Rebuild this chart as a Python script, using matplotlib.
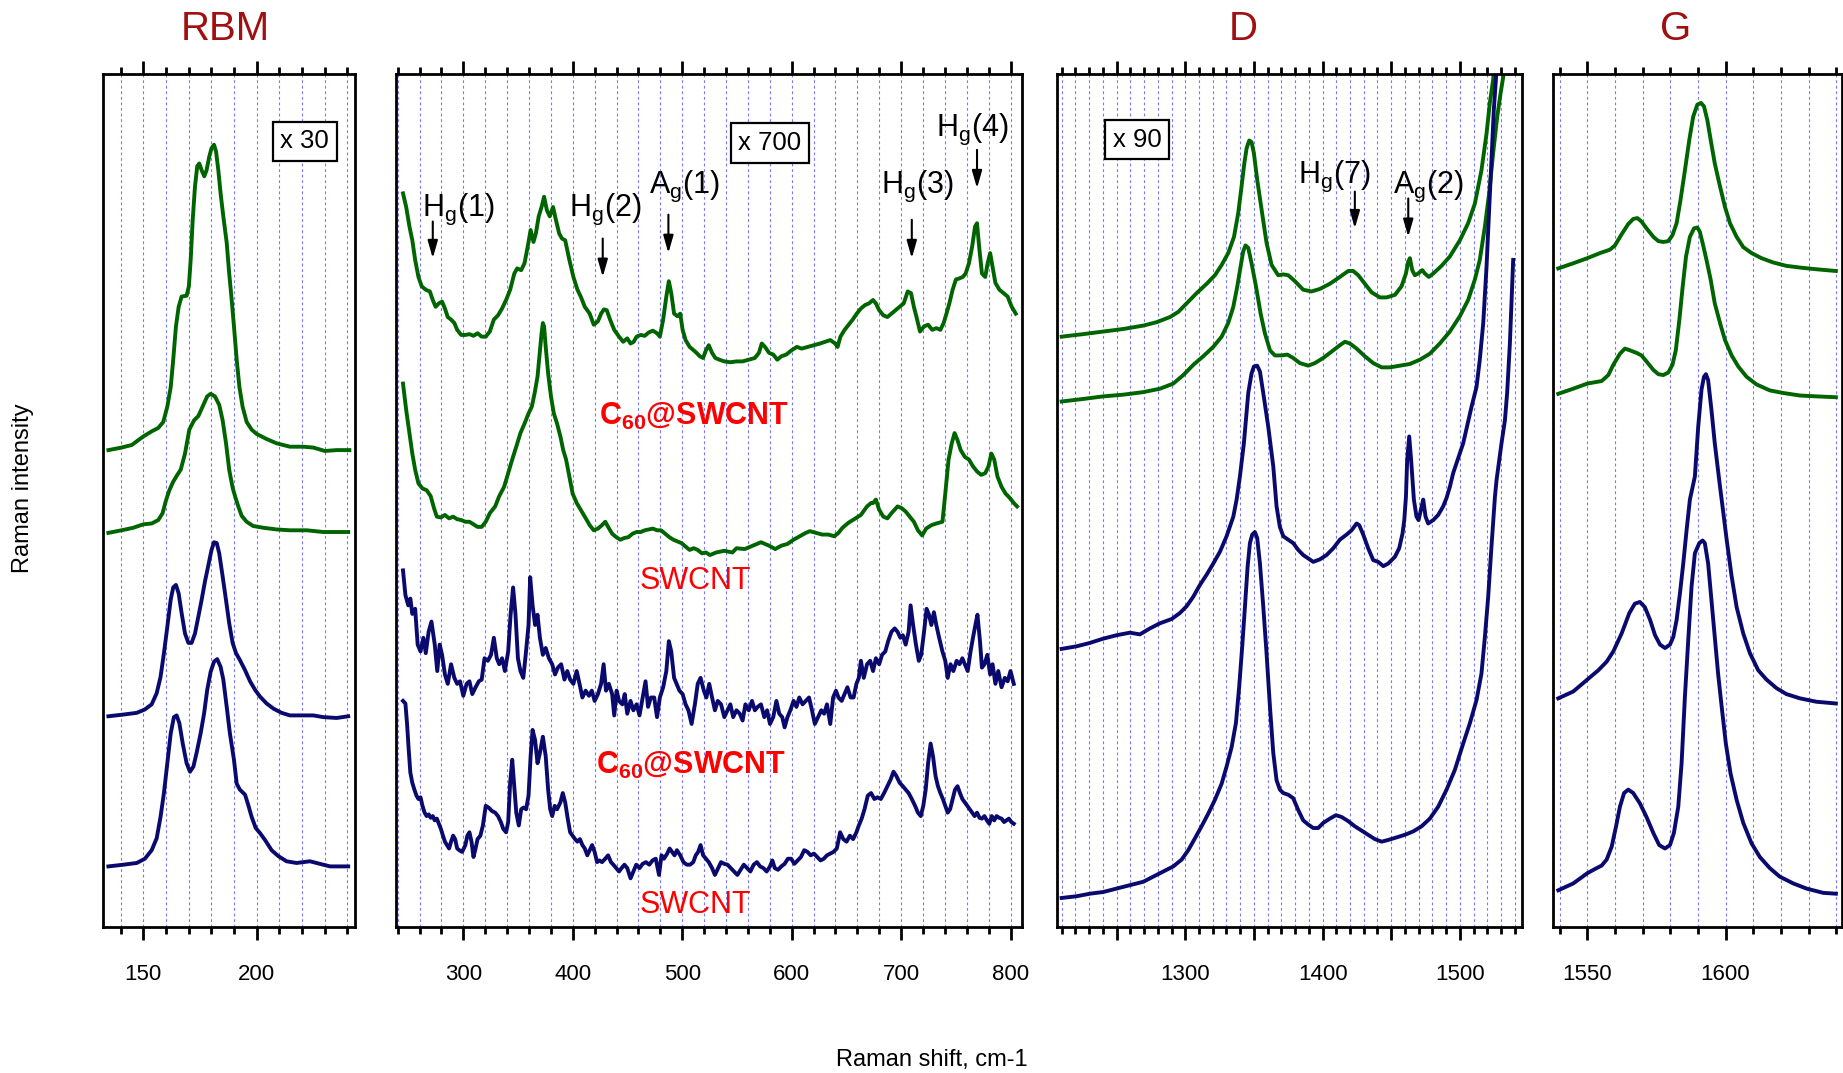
import matplotlib
matplotlib.use("Agg")
import matplotlib.pyplot as plt
import numpy as np
from matplotlib.ticker import MultipleLocator, FuncFormatter

plt.rcParams["font.family"] = ["Liberation Sans", "DejaVu Sans"]
plt.rcParams["mathtext.fontset"] = "custom"
plt.rcParams["mathtext.rm"] = "Liberation Sans"
plt.rcParams["mathtext.it"] = "Liberation Sans:italic"
plt.rcParams["mathtext.bf"] = "Liberation Sans:bold"

GREEN = "#006400"
NAVY = "#0a0a6e"
TITLE_RED = "#a01010"

# ---- RBM region (x = Raman shift, y = intensity in arbitrary offset units) ----
rbm_green_c60 = [(134.6, 55.9), (140.4, 56.2), (144.9, 56.5), (150.0, 57.5), (153.7, 58.1), (156.6, 58.5),
                 (158.8, 59.2), (160.6, 61.0), (162.1, 63.3), (163.2, 66.5), (164.4, 70.4), (165.6, 72.7),
                 (166.9, 73.9), (169.1, 74.0), (170.1, 75.1), (170.9, 78.2), (171.8, 82.9), (172.8, 86.8),
                 (173.8, 89.2), (174.7, 89.5), (175.9, 88.6), (176.9, 88.0), (177.9, 88.7), (179.1, 90.3),
                 (180.1, 91.3), (181.2, 91.7), (182.1, 90.9), (183.1, 88.7), (184.1, 86.0), (185.3, 83.3),
                 (186.8, 80.2), (187.9, 76.6), (189.0, 73.5), (190.0, 70.4), (191.2, 66.5), (192.4, 63.3),
                 (193.8, 61.0), (195.6, 59.2), (197.8, 58.3), (200.0, 57.8), (204.4, 57.2), (208.8, 56.7),
                 (214.7, 56.3), (220.6, 56.3), (225.0, 56.2), (230.1, 55.8), (235.3, 55.9), (240.9, 55.9)]
rbm_green_swcnt = [(134.6, 46.2), (140.4, 46.5), (145.6, 46.8), (150.0, 47.2), (153.7, 47.3), (156.6, 47.7),
                   (158.5, 48.5), (160.0, 50.0), (161.5, 51.2), (163.2, 52.2), (165.0, 53.0), (166.5, 53.6),
                   (168.4, 55.5), (170.3, 58.3), (172.4, 59.4), (174.3, 59.9), (176.5, 61.2), (178.2, 62.2),
                   (179.7, 62.5), (181.6, 62.2), (183.5, 61.2), (185.0, 59.4), (186.5, 56.7), (187.9, 53.6),
                   (189.4, 51.5), (190.7, 50.3), (191.9, 49.3), (193.4, 48.2), (195.6, 47.5), (198.5, 47.0),
                   (202.9, 46.8), (208.8, 46.6), (214.7, 46.5), (222.1, 46.5), (229.4, 46.3), (240.4, 46.3)]
rbm_navy_c60 = [(134.6, 24.7), (141.2, 24.9), (147.1, 25.1), (150.7, 25.5), (153.7, 26.1), (155.9, 27.4),
                (157.6, 29.3), (159.1, 32.1), (160.6, 35.2), (162.1, 38.4), (163.2, 39.8), (164.4, 40.1),
                (165.6, 39.1), (166.9, 36.8), (168.4, 34.4), (169.9, 33.3), (171.3, 33.3), (172.8, 34.4),
                (174.3, 36.4), (175.7, 38.3), (177.2, 40.5), (178.7, 42.4), (180.1, 44.2), (181.2, 45.1),
                (182.4, 45.0), (183.5, 43.8), (185.0, 41.1), (186.5, 38.3), (187.9, 35.6), (189.4, 33.3),
                (190.9, 32.1), (192.6, 31.3), (194.9, 30.1), (197.1, 28.8), (199.3, 27.8), (201.5, 27.0),
                (204.4, 26.2), (207.4, 25.6), (211.0, 25.1), (214.7, 24.8), (220.6, 24.8), (225.0, 24.8),
                (229.4, 24.6), (235.3, 24.5), (240.4, 24.7)]
rbm_navy_swcnt = [(134.6, 7.1), (141.2, 7.3), (147.1, 7.5), (150.7, 8.0), (153.7, 9.0), (155.9, 10.4),
                  (157.6, 12.9), (159.1, 15.7), (160.6, 19.2), (162.1, 22.7), (163.5, 24.6), (164.7, 24.8),
                  (165.9, 23.9), (167.4, 21.5), (169.1, 19.2), (170.6, 18.2), (172.1, 18.8), (173.5, 20.4),
                  (175.3, 22.7), (176.8, 25.0), (178.2, 27.8), (179.7, 29.9), (181.2, 31.1), (182.6, 31.4),
                  (184.1, 30.5), (185.3, 29.0), (186.8, 25.8), (188.2, 22.7), (190.0, 19.6), (191.2, 16.8),
                  (192.6, 16.1), (194.9, 15.5), (196.3, 14.3), (197.8, 12.9), (199.6, 11.6), (201.5, 11.0),
                  (203.7, 10.2), (206.6, 9.0), (209.6, 8.3), (213.2, 7.7), (217.6, 7.5), (223.5, 7.7),
                  (227.9, 7.4), (232.4, 7.1), (240.4, 7.1)]

# ---- C60 region ----
mid_green_c60 = [(244.9, 86.0), (247.8, 84.4), (250.8, 82.1), (253.4, 80.5), (256.0, 78.2), (259.0, 76.2),
                 (262.0, 75.1), (265.7, 74.7), (269.4, 74.5), (272.1, 73.5), (274.7, 72.7), (277.6, 73.1),
                 (280.6, 73.3), (283.2, 72.5), (285.8, 71.5), (288.8, 71.2), (291.8, 70.8), (294.4, 70.0),
                 (298.1, 69.4), (301.9, 69.4), (305.6, 69.5), (309.3, 69.3), (313.0, 69.6), (316.8, 69.2),
                 (320.5, 69.2), (324.2, 69.8), (327.9, 71.2), (331.7, 71.7), (335.4, 72.5), (339.1, 73.5),
                 (342.8, 74.7), (346.6, 76.6), (349.2, 77.2), (352.9, 77.0), (355.9, 77.8), (358.9, 79.8),
                 (361.5, 81.7), (364.1, 80.3), (366.3, 81.3), (368.9, 83.3), (371.5, 84.4), (373.8, 85.6),
                 (376.4, 84.0), (379.0, 83.3), (382.0, 84.4), (384.6, 82.9), (387.6, 81.3), (390.2, 80.7),
                 (393.1, 80.5), (396.9, 78.2), (400.6, 76.2), (404.3, 74.7), (407.3, 73.9), (411.0, 72.7),
                 (415.5, 71.9), (419.2, 70.6), (423.0, 71.0), (425.9, 71.9), (428.5, 72.4), (431.1, 72.3),
                 (434.1, 71.2), (437.9, 70.0), (442.3, 69.2), (446.1, 68.6), (449.8, 69.0), (452.8, 68.4),
                 (455.7, 68.6), (458.3, 69.2), (462.1, 69.4), (465.8, 69.3), (469.5, 69.7), (473.2, 69.9),
                 (477.0, 69.6), (479.6, 69.2), (482.6, 71.2), (485.5, 73.9), (487.8, 75.7), (490.0, 74.3),
                 (492.6, 71.9), (495.6, 71.6), (498.2, 71.9), (500.4, 70.0), (503.1, 68.8), (506.8, 68.0),
                 (510.5, 67.6), (513.1, 67.3), (516.1, 66.9), (519.1, 66.7), (521.7, 67.6), (524.3, 68.2),
                 (527.3, 67.3), (530.3, 66.7), (534.0, 66.5), (538.5, 66.3), (544.0, 66.2), (549.6, 66.3),
                 (555.2, 66.3), (560.8, 66.5), (566.4, 66.7), (570.1, 67.3), (572.7, 68.4), (575.7, 68.0),
                 (579.4, 67.3), (583.2, 67.1), (586.9, 66.5), (590.6, 66.9), (595.1, 67.1), (599.9, 67.6),
                 (604.8, 68.0), (609.2, 67.8), (614.8, 68.0), (620.4, 68.2), (626.0, 68.4), (630.8, 68.6),
                 (635.3, 68.8), (639.8, 68.4), (642.0, 68.0), (644.6, 69.2), (648.4, 70.0), (652.1, 70.6),
                 (655.8, 71.2), (659.5, 71.9), (663.3, 72.5), (667.0, 72.9), (670.7, 73.1), (674.4, 73.5),
                 (677.0, 73.1), (680.0, 72.3), (683.8, 71.7), (687.5, 71.5), (691.2, 71.9), (694.9, 72.3),
                 (698.7, 72.7), (702.4, 73.1), (706.1, 74.5), (709.1, 74.3), (711.7, 72.7), (714.3, 71.4),
                 (717.3, 69.8), (721.0, 70.4), (724.7, 70.6), (728.5, 70.0), (732.2, 70.2), (735.9, 70.0),
                 (738.9, 70.8), (741.5, 71.9), (744.1, 73.1), (747.1, 74.7), (750.1, 75.9), (752.7, 76.0),
                 (756.4, 76.2), (759.0, 76.6), (762.0, 77.8), (765.0, 79.8), (767.6, 82.1), (769.4, 82.5),
                 (771.3, 79.8), (773.9, 76.6), (776.9, 76.2), (779.1, 77.8), (781.4, 79.0), (783.6, 77.4),
                 (786.2, 75.5), (789.9, 74.7), (793.7, 74.3), (797.4, 73.9), (801.1, 72.7), (804.8, 71.9)]
mid_green_swcnt = [(244.9, 63.7), (247.8, 60.6), (250.8, 57.9), (253.4, 55.5), (256.0, 53.6), (259.0, 52.0),
                   (262.7, 51.4), (266.5, 51.2), (270.2, 50.5), (273.2, 49.1), (275.8, 48.1), (279.5, 48.0),
                   (283.2, 48.3), (287.0, 47.9), (290.7, 48.1), (294.4, 47.8), (298.1, 47.7), (301.9, 47.5),
                   (305.6, 47.5), (309.3, 47.2), (313.0, 46.9), (316.8, 46.9), (320.5, 47.5), (324.2, 48.5),
                   (329.1, 49.3), (332.8, 50.5), (337.3, 51.6), (341.0, 53.2), (344.7, 54.8), (348.4, 56.3),
                   (352.2, 57.9), (355.9, 59.0), (359.6, 60.2), (362.6, 61.0), (365.2, 62.6), (367.8, 64.5),
                   (370.0, 67.6), (371.5, 69.6), (372.7, 70.8), (373.8, 70.4), (375.3, 68.0), (377.5, 64.9),
                   (380.1, 62.2), (382.7, 60.2), (385.7, 59.0), (388.7, 57.5), (391.3, 55.9), (393.9, 54.8),
                   (396.9, 52.8), (399.9, 50.8), (403.6, 49.7), (407.3, 48.9), (411.0, 48.1), (415.5, 47.1),
                   (419.2, 46.5), (423.0, 46.7), (426.7, 47.1), (429.7, 47.5), (432.3, 46.9), (436.0, 46.1),
                   (439.7, 45.7), (443.4, 45.4), (447.2, 45.6), (450.9, 45.7), (454.6, 46.1), (458.3, 46.3),
                   (462.1, 46.3), (465.8, 46.5), (469.5, 46.6), (473.2, 46.7), (477.0, 46.5), (480.7, 46.5),
                   (484.4, 46.1), (488.2, 45.7), (491.9, 45.4), (495.6, 45.2), (499.3, 45.0), (503.1, 44.6),
                   (506.8, 44.2), (510.5, 44.4), (514.2, 44.2), (518.0, 43.8), (521.7, 43.9), (525.4, 43.6),
                   (531.0, 43.9), (538.5, 44.1), (545.9, 43.9), (549.6, 44.4), (557.1, 44.3), (564.5, 44.7),
                   (572.0, 45.1), (579.4, 44.7), (585.0, 44.3), (590.6, 44.7), (596.2, 44.9), (601.8, 45.4),
                   (607.4, 45.8), (613.0, 46.2), (616.7, 46.4), (622.3, 46.2), (627.9, 46.0), (633.5, 46.0),
                   (639.0, 45.8), (642.8, 46.2), (646.5, 46.8), (652.1, 47.4), (655.8, 47.7), (663.3, 48.3),
                   (668.9, 49.3), (672.6, 49.7), (674.4, 49.7), (677.0, 50.1), (680.0, 48.9), (683.8, 48.1),
                   (687.5, 47.9), (691.2, 48.5), (696.8, 49.3), (700.5, 49.1), (704.2, 48.7), (708.0, 48.1),
                   (711.7, 47.5), (715.4, 46.5), (719.2, 45.9), (722.9, 46.7), (727.7, 47.1), (732.2, 47.3),
                   (737.8, 47.5), (740.4, 50.8), (743.4, 54.8), (746.3, 56.7), (748.9, 57.9), (751.5, 57.1),
                   (754.5, 55.9), (758.3, 55.1), (762.0, 54.8), (765.7, 54.0), (769.4, 53.4), (773.2, 53.0),
                   (776.9, 53.2), (779.9, 54.0), (782.5, 55.5), (785.1, 54.8), (788.1, 52.8), (791.8, 51.6),
                   (795.5, 50.8), (799.3, 50.3), (803.0, 49.7), (806.0, 49.3)]
mid_navy_c60 = [(244.9, 41.8), (247.1, 38.9), (249.7, 37.7), (251.6, 38.5), (253.4, 36.7), (256.0, 37.3),
                (258.3, 33.1), (260.9, 32.3), (263.5, 33.9), (265.7, 32.1), (268.3, 34.6), (270.9, 35.8),
                (273.9, 33.1), (276.2, 30.0), (278.4, 33.1), (280.6, 31.9), (283.2, 29.6), (285.8, 28.5),
                (288.8, 30.8), (291.8, 29.2), (294.4, 28.5), (297.0, 28.8), (300.0, 27.1), (303.0, 28.5),
                (305.6, 28.8), (308.2, 27.3), (311.2, 28.1), (314.2, 28.8), (316.8, 29.0), (319.4, 31.5),
                (322.4, 31.2), (325.3, 31.9), (327.9, 33.9), (330.6, 31.5), (332.8, 30.8), (335.4, 31.5),
                (338.0, 30.0), (341.0, 32.3), (343.2, 36.6), (345.5, 39.8), (347.7, 36.6), (349.9, 31.5),
                (352.2, 30.0), (354.8, 29.2), (357.0, 31.9), (359.6, 35.4), (361.1, 41.0), (363.3, 37.7),
                (365.6, 35.4), (367.8, 36.6), (370.0, 33.9), (372.7, 31.9), (375.3, 32.7), (378.2, 31.5),
                (381.2, 30.8), (383.8, 29.6), (386.4, 30.4), (389.4, 30.8), (392.4, 29.0), (395.0, 30.0),
                (397.6, 29.0), (400.6, 28.5), (403.6, 30.0), (406.2, 28.5), (408.8, 26.9), (411.8, 27.7),
                (414.8, 27.1), (417.4, 27.7), (420.0, 26.5), (423.0, 27.3), (425.9, 28.5), (428.2, 30.8),
                (430.4, 27.7), (433.0, 28.5), (436.0, 27.3), (437.9, 24.8), (440.1, 27.7), (442.3, 26.5),
                (445.3, 26.1), (447.5, 27.3), (449.8, 25.0), (452.8, 26.5), (455.4, 25.4), (458.3, 26.1),
                (461.0, 24.8), (463.9, 26.9), (466.5, 28.8), (468.8, 25.8), (471.4, 26.9), (474.4, 26.9),
                (477.0, 24.6), (479.6, 26.9), (482.6, 28.1), (485.5, 30.0), (487.8, 33.5), (490.0, 32.3),
                (492.6, 29.2), (494.9, 28.5), (497.5, 27.7), (500.4, 27.3), (503.1, 26.1), (505.7, 25.4),
                (508.6, 23.8), (511.6, 26.1), (514.2, 28.5), (516.8, 29.2), (519.8, 27.7), (522.1, 26.9),
                (524.7, 28.5), (527.3, 26.9), (529.9, 25.4), (532.5, 26.5), (535.5, 26.1), (538.5, 24.6),
                (541.4, 25.4), (544.0, 26.1), (546.6, 24.6), (549.6, 25.4), (552.6, 25.0), (555.2, 24.2),
                (557.8, 26.1), (560.8, 25.4), (563.8, 26.5), (566.4, 25.4), (569.0, 25.8), (572.0, 26.1),
                (575.0, 24.6), (577.6, 25.4), (580.2, 23.8), (583.2, 24.6), (586.1, 26.5), (588.7, 25.0),
                (591.4, 24.6), (593.6, 23.4), (596.2, 24.6), (598.8, 25.4), (601.8, 26.5), (604.4, 25.8),
                (607.0, 26.9), (610.0, 26.1), (613.0, 26.5), (615.9, 26.9), (618.6, 25.4), (621.2, 23.8),
                (624.1, 24.6), (627.1, 25.4), (629.7, 25.0), (632.3, 26.1), (635.3, 23.8), (637.9, 26.9),
                (640.5, 27.7), (642.8, 26.9), (645.7, 26.5), (648.4, 27.3), (651.0, 28.1), (653.9, 26.9),
                (656.6, 26.9), (659.2, 28.5), (661.4, 29.2), (663.3, 31.2), (665.9, 29.2), (668.9, 30.8),
                (671.8, 31.2), (674.4, 30.0), (677.0, 31.5), (680.0, 30.8), (682.6, 31.9), (685.6, 32.3),
                (688.2, 33.5), (691.2, 34.6), (694.2, 35.0), (696.8, 34.6), (699.4, 33.9), (701.6, 34.2),
                (704.2, 33.1), (706.9, 34.6), (708.7, 37.7), (711.0, 35.4), (713.6, 33.1), (716.2, 31.2),
                (718.4, 31.9), (721.0, 34.6), (723.3, 37.3), (725.5, 36.6), (727.7, 35.4), (730.0, 36.9),
                (732.2, 35.4), (734.8, 33.9), (737.8, 32.3), (740.4, 31.2), (742.6, 29.2), (745.2, 30.8),
                (747.8, 30.0), (750.8, 31.2), (753.4, 30.8), (756.0, 31.5), (758.3, 30.8), (760.9, 30.0),
                (763.5, 32.3), (765.7, 33.9), (767.9, 35.4), (769.8, 36.6), (772.1, 33.5), (773.9, 30.4),
                (776.2, 30.8), (778.8, 31.9), (781.4, 29.6), (783.6, 30.8), (786.2, 28.5), (788.8, 30.0),
                (791.8, 28.1), (794.8, 29.2), (797.4, 28.8), (800.0, 30.0), (803.0, 28.5)]
mid_navy_swcnt = [(244.9, 26.5), (247.1, 26.2), (248.6, 23.8), (250.1, 20.8), (251.6, 18.1), (253.4, 16.9),
                  (255.3, 16.1), (257.2, 15.4), (259.0, 15.0), (260.9, 15.2), (262.7, 14.2), (264.6, 13.4),
                  (266.5, 13.0), (268.3, 13.2), (270.2, 12.8), (272.1, 13.0), (273.9, 12.5), (275.8, 12.7),
                  (277.6, 12.1), (279.5, 11.5), (281.4, 10.7), (283.2, 10.0), (285.1, 9.6), (287.0, 9.2),
                  (288.8, 10.0), (290.7, 10.7), (292.5, 10.3), (294.4, 9.2), (296.3, 9.0), (298.9, 8.8),
                  (301.9, 9.6), (303.7, 10.7), (305.6, 11.1), (307.5, 10.0), (309.3, 8.2), (311.2, 9.2),
                  (313.0, 10.3), (315.6, 10.7), (317.9, 11.9), (320.5, 14.2), (323.1, 14.0), (326.1, 13.6),
                  (329.1, 13.4), (331.7, 13.0), (334.3, 12.3), (336.5, 11.5), (339.1, 11.1), (341.0, 12.3),
                  (342.8, 16.9), (344.7, 19.6), (346.6, 16.5), (348.4, 13.4), (350.7, 11.9), (352.9, 13.8),
                  (355.1, 14.0), (357.4, 13.8), (359.6, 15.4), (361.5, 20.0), (363.3, 23.1), (365.6, 21.9),
                  (367.8, 19.2), (370.0, 20.4), (372.7, 22.3), (375.3, 20.0), (377.5, 16.1), (379.4, 13.8),
                  (381.2, 13.0), (383.5, 14.2), (385.7, 13.8), (388.7, 14.6), (390.9, 15.7), (393.1, 14.6),
                  (395.4, 12.7), (397.6, 11.1), (399.9, 10.7), (402.1, 10.3), (404.3, 10.0), (406.6, 10.3),
                  (408.8, 9.6), (411.0, 9.2), (413.3, 8.4), (415.5, 9.0), (417.7, 9.6), (420.0, 8.8),
                  (422.2, 7.6), (424.4, 7.8), (426.7, 7.6), (429.7, 8.0), (432.3, 8.4), (434.9, 7.6),
                  (437.1, 7.3), (439.7, 6.9), (442.3, 6.5), (444.6, 6.9), (447.2, 7.3), (449.8, 6.9),
                  (452.8, 5.7), (455.4, 6.5), (458.0, 7.3), (461.0, 6.9), (463.9, 7.4), (466.9, 7.6),
                  (469.9, 7.3), (472.9, 7.8), (475.9, 8.0), (478.8, 6.1), (481.1, 8.4), (483.3, 8.0),
                  (486.3, 8.6), (488.5, 9.2), (490.8, 8.8), (493.0, 8.4), (495.2, 9.0), (498.2, 8.4),
                  (501.2, 7.6), (504.2, 7.3), (507.2, 7.3), (510.1, 7.6), (512.4, 8.4), (514.6, 8.8),
                  (516.8, 9.6), (519.1, 8.4), (521.7, 8.0), (524.3, 7.6), (527.3, 6.9), (529.9, 6.1),
                  (532.9, 6.9), (535.5, 7.6), (538.5, 7.4), (541.4, 7.3), (544.4, 6.9), (547.4, 6.5),
                  (550.4, 6.1), (553.4, 6.7), (556.3, 7.3), (559.3, 6.9), (562.3, 6.5), (565.3, 7.3),
                  (568.3, 7.6), (571.2, 7.1), (574.2, 6.9), (577.2, 6.5), (580.2, 7.1), (582.4, 7.8),
                  (584.6, 6.9), (587.6, 6.7), (590.6, 7.1), (593.6, 7.4), (596.6, 8.0), (599.6, 8.0),
                  (602.5, 7.4), (605.5, 7.8), (608.5, 8.2), (611.5, 9.0), (614.5, 8.8), (617.4, 8.4),
                  (620.4, 8.6), (623.4, 8.2), (626.4, 7.8), (629.4, 8.0), (632.3, 8.4), (635.3, 8.6),
                  (638.3, 8.8), (641.3, 9.2), (644.3, 11.1), (647.2, 10.3), (650.2, 10.0), (653.2, 10.7),
                  (656.2, 10.3), (659.2, 11.1), (661.4, 11.9), (664.0, 12.7), (666.6, 13.8), (669.6, 15.4),
                  (672.6, 15.7), (675.6, 15.0), (678.5, 15.2), (681.5, 15.0), (684.5, 15.7), (687.5, 16.5),
                  (690.5, 17.3), (693.1, 18.2), (695.7, 17.7), (698.7, 16.9), (701.6, 16.5), (704.2, 16.1),
                  (706.9, 15.7), (709.8, 15.0), (712.8, 14.2), (715.4, 13.4), (718.0, 13.0), (720.3, 14.2),
                  (722.5, 16.1), (724.7, 19.2), (727.0, 21.5), (729.2, 20.0), (731.5, 17.7), (733.7, 16.5),
                  (735.9, 15.7), (738.2, 15.0), (740.4, 14.2), (742.6, 13.4), (744.8, 13.8), (747.1, 15.0),
                  (749.3, 16.1), (751.6, 16.5), (753.8, 15.7), (756.0, 15.0), (758.3, 14.6), (760.5, 14.2),
                  (762.7, 13.8), (765.0, 13.4), (767.2, 13.0), (769.4, 13.4), (771.7, 12.8), (773.9, 12.7),
                  (776.2, 13.0), (778.4, 12.5), (780.6, 12.1), (782.9, 13.0), (785.1, 12.5), (787.3, 13.0),
                  (789.6, 12.8), (791.8, 12.7), (794.1, 12.3), (796.3, 12.5), (798.5, 12.7), (800.8, 12.3),
                  (803.0, 12.1)]

# ---- D band region ----
d_green_c60 = [(1210.0, 69.2), (1225.8, 69.5), (1240.3, 69.8), (1254.9, 70.1), (1269.5, 70.5), (1279.2, 70.9),
               (1288.9, 71.5), (1294.9, 72.1), (1301.0, 73.1), (1308.3, 74.3), (1315.6, 75.4), (1321.6, 76.4),
               (1326.5, 77.6), (1331.3, 79.0), (1335.5, 80.9), (1338.6, 83.7), (1341.0, 86.8), (1343.0, 89.5),
               (1344.7, 91.3), (1346.6, 92.2), (1348.3, 92.0), (1350.0, 90.7), (1352.4, 87.6), (1355.6, 84.1),
               (1359.2, 80.2), (1362.9, 77.6), (1367.7, 76.4), (1371.4, 76.5), (1375.0, 76.4), (1379.9, 75.7),
               (1385.9, 74.7), (1392.0, 74.5), (1398.1, 74.8), (1405.3, 75.4), (1412.6, 76.2), (1418.7, 76.9),
               (1422.3, 76.9), (1426.0, 76.4), (1430.8, 75.4), (1435.7, 74.4), (1441.7, 73.8), (1446.6, 73.8),
               (1452.7, 74.1), (1457.5, 75.1), (1460.7, 76.6), (1462.4, 78.0), (1463.6, 78.4), (1465.3, 77.0),
               (1467.2, 76.4), (1469.6, 76.6), (1472.6, 77.0), (1474.5, 76.6), (1477.4, 76.2), (1480.6, 76.6),
               (1486.6, 77.5), (1492.7, 78.6), (1500.0, 80.5), (1506.0, 82.5), (1510.9, 84.8), (1515.7, 88.7),
               (1519.4, 93.0), (1521.8, 96.6), (1524.2, 99.3), (1526.0, 103.0)]
d_green_swcnt = [(1210.0, 61.6), (1225.8, 61.9), (1240.3, 62.2), (1254.9, 62.4), (1269.5, 62.7), (1281.6, 63.1),
                 (1291.3, 63.7), (1298.6, 64.7), (1305.9, 65.9), (1313.1, 66.9), (1320.4, 68.0), (1326.5, 69.2),
                 (1331.3, 70.8), (1335.0, 72.7), (1337.9, 75.1), (1340.3, 77.4), (1342.2, 79.2), (1343.9, 79.9),
                 (1345.9, 79.6), (1348.3, 77.8), (1351.5, 75.1), (1354.9, 71.9), (1358.0, 69.6), (1361.7, 67.6),
                 (1365.3, 67.0), (1370.2, 67.0), (1374.3, 67.1), (1378.6, 66.7), (1383.5, 66.1), (1389.6, 65.8),
                 (1394.4, 66.1), (1400.5, 66.7), (1407.8, 67.6), (1412.6, 68.2), (1416.3, 68.6), (1419.9, 68.4),
                 (1424.8, 67.8), (1430.8, 66.9), (1436.9, 66.1), (1443.0, 65.6), (1449.0, 65.6), (1456.3, 65.8),
                 (1463.6, 66.0), (1470.9, 66.5), (1478.1, 67.2), (1485.4, 68.4), (1492.7, 69.8), (1500.0, 71.6),
                 (1506.0, 73.5), (1510.9, 75.9), (1514.5, 78.2), (1518.2, 82.1), (1521.3, 86.0), (1524.2, 90.7),
                 (1527.2, 95.0), (1529.6, 97.7), (1532.0, 100.1), (1533.5, 103.0)]
d_navy_c60 = [(1210.0, 32.6), (1220.9, 32.9), (1230.6, 33.3), (1240.3, 33.8), (1250.0, 34.2), (1259.7, 34.5),
              (1267.0, 34.3), (1274.3, 35.0), (1281.6, 35.6), (1290.1, 36.1), (1296.1, 36.8), (1301.0, 37.6),
              (1305.8, 38.7), (1310.7, 40.1), (1315.6, 41.3), (1320.4, 42.6), (1325.3, 44.0), (1330.1, 45.8),
              (1335.0, 48.1), (1337.4, 50.1), (1339.8, 52.8), (1342.7, 56.7), (1345.9, 62.6), (1348.3, 64.9),
              (1350.0, 65.7), (1352.4, 65.8), (1354.4, 65.1), (1356.8, 62.6), (1360.4, 58.7), (1364.1, 54.0),
              (1366.5, 49.3), (1368.9, 46.9), (1371.4, 45.8), (1375.0, 45.4), (1378.6, 45.0), (1382.3, 44.2),
              (1385.9, 43.6), (1389.6, 43.2), (1393.2, 42.8), (1398.1, 43.1), (1402.9, 43.6), (1407.8, 44.4),
              (1412.6, 45.4), (1417.5, 46.0), (1421.1, 46.5), (1424.8, 47.3), (1426.7, 47.1), (1429.6, 46.0),
              (1433.2, 44.4), (1436.9, 43.0), (1440.5, 42.8), (1444.2, 42.3), (1447.8, 42.6), (1452.7, 43.4),
              (1455.8, 44.4), (1458.2, 46.1), (1459.5, 47.7), (1460.7, 50.4), (1461.6, 54.7), (1463.1, 57.5),
              (1464.5, 54.7), (1466.5, 50.1), (1468.4, 48.1), (1469.9, 47.7), (1471.6, 48.9), (1473.3, 50.1),
              (1475.0, 48.1), (1476.9, 47.3), (1480.6, 47.7), (1484.2, 48.3), (1487.8, 49.3), (1490.3, 50.3),
              (1492.7, 51.6), (1495.1, 53.2), (1502.4, 56.7), (1508.5, 61.0), (1512.1, 63.3), (1514.5, 66.5),
              (1517.0, 70.8), (1519.4, 77.4), (1521.3, 84.1), (1523.0, 89.9), (1524.7, 95.8), (1526.2, 99.3),
              (1527.5, 103.0)]
d_navy_swcnt = [(1210.0, 3.4), (1220.9, 3.6), (1230.6, 3.9), (1240.3, 4.1), (1250.0, 4.5), (1259.7, 4.9),
                (1269.5, 5.3), (1276.7, 5.9), (1284.0, 6.5), (1291.3, 7.1), (1297.4, 7.9), (1302.2, 9.0),
                (1307.1, 10.4), (1311.9, 11.8), (1316.8, 13.3), (1321.6, 14.9), (1326.5, 16.8), (1330.1, 18.8),
                (1333.8, 21.1), (1336.9, 23.9), (1339.3, 28.2), (1341.5, 32.9), (1343.5, 37.6), (1345.4, 42.2),
                (1347.1, 45.0), (1348.8, 46.0), (1350.7, 46.3), (1352.4, 45.6), (1354.4, 42.6), (1356.8, 37.6),
                (1359.2, 32.1), (1361.7, 25.8), (1364.1, 20.4), (1366.5, 17.2), (1368.9, 16.1), (1371.4, 15.7),
                (1375.0, 15.5), (1378.6, 15.1), (1382.3, 13.7), (1385.9, 12.5), (1389.6, 12.0), (1393.2, 11.6),
                (1396.8, 11.6), (1400.5, 12.2), (1405.3, 12.7), (1409.7, 13.1), (1413.8, 12.9), (1418.7, 12.4),
                (1423.5, 11.8), (1428.4, 11.3), (1433.2, 10.8), (1438.1, 10.3), (1443.0, 10.0), (1447.8, 10.2),
                (1453.9, 10.5), (1459.9, 10.8), (1466.0, 11.2), (1472.1, 11.8), (1478.1, 12.7), (1484.2, 14.1),
                (1490.3, 16.1), (1496.3, 18.4), (1502.4, 21.5), (1507.3, 23.9), (1512.1, 26.6), (1515.7, 29.7),
                (1518.2, 34.0), (1520.6, 38.7), (1523.0, 44.6), (1525.5, 50.4), (1526.7, 52.4), (1530.3, 56.7),
                (1532.8, 59.4), (1534.4, 62.6), (1536.4, 68.4), (1538.8, 78.2)]

# ---- G band region ----
g_green_c60 = [(1539.5, 77.2), (1544.9, 77.8), (1550.0, 78.4), (1554.6, 79.0), (1558.2, 79.4), (1560.0, 79.9),
               (1562.4, 81.2), (1564.8, 82.4), (1566.6, 83.0), (1568.1, 83.1), (1569.6, 82.7), (1571.4, 81.9),
               (1573.9, 80.9), (1575.7, 80.4), (1577.5, 80.3), (1579.3, 80.4), (1580.8, 81.1), (1582.3, 82.5),
               (1583.7, 85.2), (1585.3, 88.7), (1586.9, 92.3), (1588.3, 95.0), (1589.8, 96.4), (1591.1, 96.6),
               (1592.2, 96.2), (1593.4, 94.6), (1594.6, 92.3), (1596.1, 89.5), (1598.0, 86.8), (1599.8, 84.4),
               (1601.6, 82.5), (1604.0, 80.9), (1606.4, 79.7), (1609.4, 79.0), (1613.0, 78.4), (1617.2, 77.9),
               (1622.0, 77.5), (1626.9, 77.3), (1632.9, 77.1), (1639.9, 76.9)]
g_green_swcnt = [(1539.5, 62.5), (1544.9, 63.1), (1550.0, 63.7), (1555.2, 64.0), (1557.6, 64.7), (1559.4, 65.9),
                 (1561.8, 67.2), (1563.6, 67.8), (1565.4, 67.6), (1567.8, 67.3), (1569.6, 67.0), (1571.4, 66.3),
                 (1573.9, 65.3), (1575.7, 64.8), (1577.5, 64.7), (1579.3, 65.0), (1580.8, 65.9), (1582.0, 67.6),
                 (1583.3, 71.2), (1584.5, 75.1), (1585.7, 78.6), (1587.1, 80.9), (1588.6, 81.9), (1589.8, 82.0),
                 (1590.7, 81.5), (1591.9, 79.9), (1593.1, 78.2), (1594.6, 75.9), (1596.1, 73.1), (1598.0, 70.8),
                 (1599.8, 68.8), (1602.2, 67.0), (1604.6, 65.7), (1607.6, 64.5), (1611.2, 63.6), (1616.0, 62.9),
                 (1620.8, 62.6), (1626.9, 62.3), (1632.9, 62.2), (1639.9, 62.1)]
g_navy_c60 = [(1539.5, 26.8), (1544.9, 27.6), (1550.0, 29.0), (1554.0, 30.1), (1557.0, 31.1), (1559.4, 32.3),
              (1562.4, 34.4), (1565.2, 36.8), (1567.2, 37.9), (1569.0, 38.1), (1570.8, 37.5), (1572.7, 36.0),
              (1574.5, 34.2), (1576.3, 33.1), (1578.1, 32.7), (1579.9, 33.1), (1581.1, 34.0), (1582.3, 36.0),
              (1583.5, 39.1), (1584.7, 42.6), (1585.9, 46.5), (1587.1, 50.1), (1588.9, 52.8), (1590.1, 58.6),
              (1591.3, 63.0), (1592.2, 64.5), (1592.9, 64.8), (1593.7, 64.1), (1594.9, 60.6), (1596.1, 56.7),
              (1598.0, 51.6), (1598.9, 49.3), (1600.4, 45.4), (1602.2, 41.1), (1604.0, 37.5), (1606.4, 34.4),
              (1608.8, 32.1), (1611.8, 30.1), (1614.8, 29.0), (1618.4, 28.0), (1622.0, 27.3), (1626.9, 26.8),
              (1632.9, 26.4), (1639.9, 26.2)]
g_navy_swcnt = [(1539.5, 4.3), (1544.9, 5.1), (1550.0, 6.3), (1552.8, 6.8), (1555.2, 7.2), (1557.0, 7.9),
                (1558.8, 9.4), (1560.4, 11.8), (1561.8, 14.1), (1563.3, 15.7), (1564.8, 16.1), (1566.6, 15.7),
                (1569.0, 14.5), (1571.4, 12.9), (1573.9, 11.0), (1576.0, 9.6), (1578.1, 9.2), (1579.9, 9.6),
                (1581.3, 11.0), (1582.9, 14.1), (1584.1, 19.2), (1585.3, 27.0), (1586.5, 33.6), (1587.7, 39.9),
                (1588.9, 43.8), (1590.5, 45.0), (1591.7, 45.3), (1592.5, 45.0), (1593.7, 42.6), (1594.9, 38.3),
                (1596.1, 34.0), (1597.3, 29.7), (1598.6, 25.8), (1600.1, 21.5), (1601.8, 18.0), (1604.0, 14.9),
                (1606.4, 12.2), (1609.4, 9.8), (1612.4, 8.2), (1616.0, 6.9), (1619.6, 5.9), (1624.5, 5.1),
                (1629.3, 4.5), (1635.3, 4.0), (1639.9, 3.9)]

# mode labels: (text, x, baseline), arrows: (x, tail, tip)
mid_modes = [(r"H$_\mathrm{g}$(1)", 262.0, 83.4), (r"H$_\mathrm{g}$(2)", 396.9, 83.4),
             (r"A$_\mathrm{g}$(1)", 469.5, 86.0), (r"H$_\mathrm{g}$(3)", 681.9, 86.0),
             (r"H$_\mathrm{g}$(4)", 732.2, 92.7)]
mid_arrows = [(272.1, 82.7, 78.4), (427.4, 80.7, 76.2), (487.4, 83.5, 79.0),
              (709.8, 82.9, 78.4), (769.4, 91.1, 86.6)]
d_modes = [(r"H$_\mathrm{g}$(7)", 1382.3, 87.2), (r"A$_\mathrm{g}$(2)", 1451.4, 86.0)]
d_arrows = [(1423.5, 86.2, 81.9), (1462.4, 85.4, 80.9)]


def style_axis(ax, xlim, minor_step, major_step, label_step):
    ax.set_xlim(*xlim)
    ax.set_ylim(0, 100)
    ax.set_yticks([])
    ax.xaxis.set_minor_locator(MultipleLocator(minor_step))
    ax.xaxis.set_major_locator(MultipleLocator(major_step))
    ax.xaxis.set_major_formatter(
        FuncFormatter(lambda v, _: f"{v:.0f}" if round(v) % label_step == 0 else ""))
    ax.tick_params(axis="x", which="both", direction="out", top=True, bottom=True,
                   width=2, labelsize=16, pad=17)
    ax.tick_params(axis="x", which="major", length=9.5)
    ax.tick_params(axis="x", which="minor", length=5)
    ax.grid(True, which="both", axis="x", color="#7878ff",
            linestyle=(0, (2.5, 2.5)), linewidth=0.8)
    ax.set_axisbelow(True)
    for spine in ax.spines.values():
        spine.set_linewidth(2)


def draw_traces(ax, traces):
    for pts, color in traces:
        x, y = np.array(pts).T
        ax.plot(x, y, color=color, lw=2.8, solid_joinstyle="round")


def box_label(ax, text, x, y):
    ax.text(x, y, text, fontsize=18.5, ha="center", va="center", zorder=5,
            bbox=dict(boxstyle="square,pad=0.3", fc="white", ec="black", lw=1.6))


def mode_marks(ax, modes, arrows):
    for text, x, y in modes:
        ax.text(x, y, text, fontsize=22, ha="left", va="baseline")
    for x, tail, tip in arrows:
        ax.annotate("", xy=(x, tip), xytext=(x, tail),
                    arrowprops=dict(arrowstyle="-|>,head_length=0.7,head_width=0.2",
                                    color="black", lw=1.5, mutation_scale=15,
                                    shrinkA=0, shrinkB=0))


fig = plt.figure(figsize=(18.43, 10.73), dpi=100)
bottom, height = 0.1361, 0.7950
ax_rbm = fig.add_axes([0.05605, bottom, 0.13657, height])
ax_mid = fig.add_axes([0.21487, bottom, 0.33966, height])
ax_d = fig.add_axes([0.57336, bottom, 0.25230, height])
ax_g = fig.add_axes([0.84281, bottom, 0.15648, height])

style_axis(ax_rbm, (132.35, 243.4), 10, 50, 50)
style_axis(ax_mid, (238.5, 810.5), 20, 100, 100)
style_axis(ax_d, (1206.4, 1545.0), 10, 50, 100)
style_axis(ax_g, (1537.7, 1642.0), 10, 50, 50)

draw_traces(ax_rbm, [(rbm_green_c60, GREEN), (rbm_green_swcnt, GREEN),
                     (rbm_navy_c60, NAVY), (rbm_navy_swcnt, NAVY)])
draw_traces(ax_mid, [(mid_green_c60, GREEN), (mid_green_swcnt, GREEN),
                     (mid_navy_c60, NAVY), (mid_navy_swcnt, NAVY)])
draw_traces(ax_d, [(d_green_c60, GREEN), (d_green_swcnt, GREEN),
                   (d_navy_c60, NAVY), (d_navy_swcnt, NAVY)])
draw_traces(ax_g, [(g_green_c60, GREEN), (g_green_swcnt, GREEN),
                   (g_navy_c60, NAVY), (g_navy_swcnt, NAVY)])

box_label(ax_rbm, "x 30", 221.2, 92.1)
box_label(ax_mid, "x 700", 580.2, 91.9)
box_label(ax_d, "x 90", 1264.8, 92.3)

mode_marks(ax_mid, mid_modes, mid_arrows)
mode_marks(ax_d, d_modes, d_arrows)

# sample labels in the C60 panel
red_c60 = r"C$_\mathbf{60}$@SWCNT"
ax_mid.text(510.5, 58.9, red_c60, color="#ff0000", fontsize=22, fontweight="bold",
            ha="center", va="baseline")
ax_mid.text(512.0, 39.6, "SWCNT", color="#ff0000", fontsize=22, ha="center", va="baseline")
ax_mid.text(508.6, 18.0, red_c60, color="#ff0000", fontsize=22, fontweight="bold",
            ha="center", va="baseline")
ax_mid.text(512.0, 1.6, "SWCNT", color="#ff0000", fontsize=22, ha="center", va="baseline")

# panel titles and shared axis labels
fig.text(0.1225, 0.9726, "RBM", color=TITLE_RED, fontsize=29, ha="center", va="center")
fig.text(0.6748, 0.9726, "D", color=TITLE_RED, fontsize=29, ha="center", va="center")
fig.text(0.9094, 0.9726, "G", color=TITLE_RED, fontsize=29, ha="center", va="center")
fig.text(0.0125, 0.545, "Raman intensity", rotation=90, fontsize=17, ha="center", va="center")
fig.text(0.5057, 0.0125, "Raman shift, cm-1", fontsize=17, ha="center", va="center")

fig.savefig("out.png", dpi=100)
